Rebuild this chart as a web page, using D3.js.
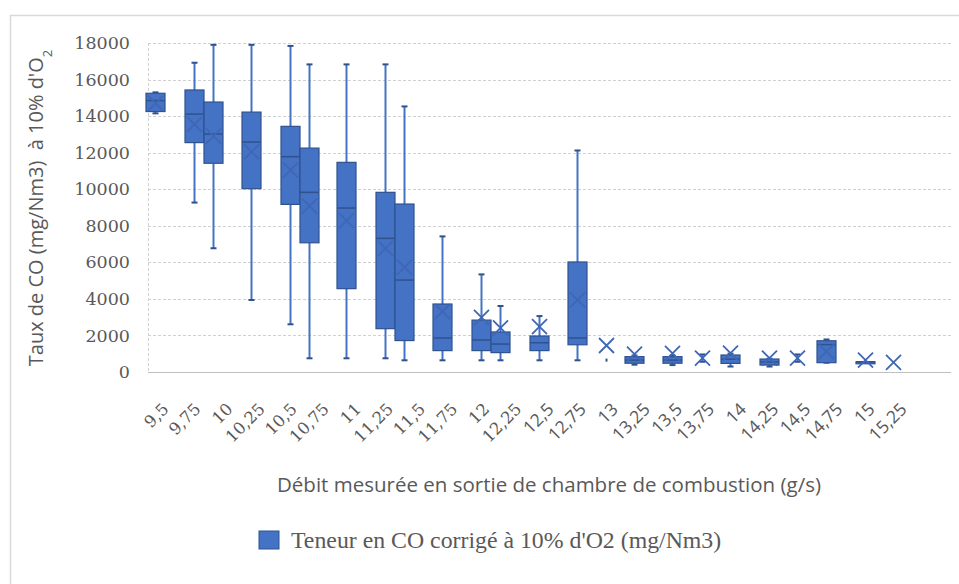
<!DOCTYPE html>
<html>
<head>
<meta charset="utf-8">
<script src="https://cdn.jsdelivr.net/npm/d3@7"></script>
<style>
  html, body { margin: 0; padding: 0; background: #fff; }
  svg { display: block; }
</style>
</head>
<body>
<svg id="chart" width="959" height="584"></svg>
<script>
// ---- data ----
const categories = ["9,5","9,75","10","10,25","10,5","10,75","11","11,25","11,5","11,75","12","12,25","12,5","12,75","13","13,25","13,5","13,75","14","14,25","14,5","14,75","15","15,25"];
const categoryValues = [9.5,9.75,10,10.25,10.5,10.75,11,11.25,11.5,11.75,12,12.25,12.5,12.75,13,13.25,13.5,13.75,14,14.25,14.5,14.75,15,15.25];
// position of each box on the flow axis (g/s)
const boxFlow = [9.50,9.80,9.95,10.25,10.55,10.70,10.99,11.29,11.44,11.74,12.04,12.19,12.49,12.79,13.01,13.23,13.53,13.76,13.98,14.28,14.50,14.73,15.03,15.25];
const mins    = [14150, 9270, 6770, 3940, 2610,  750,  750,  750,  640,  640,  640,  640,  640,  640,  650,  400,  380,  560,  300,  300,  560,  510,  560,  530];
const q1s     = [14250,12550,11420,10030, 9170, 7070, 4560, 2370, 1720, 1170, 1170, 1060, 1170, 1490, null,  480,  480, null,  470,  380, null,  510,  560, null];
const medians = [14850,14110,13020,12580,11780, 9830, 8970, 7310, 5030, 1860, 1750, 1530, 1600, 1860, null,  650,  650, null,  700,  550, null, 1500,  560, null];
const q3s     = [15250,15430,14770,14220,13440,12250,11470, 9830, 9190, 3720, 2840, 2190, 1970, 6020, null,  840,  840, null,  930,  710, null, 1710,  560, null];
const maxs    = [15300,16920,17900,17900,17840,16830,16830,16830,14530, 7420, 5340, 3610, 3060,12120,  650,  900,  900,  960, 1000,  720,  960, 1780,  560,  530];
const means   = [14700,13550,12910,12050,11050, 9080, 8280, 6760, 5720, 3300, 2990, 2420, 2480, 3940, 1450,  980, 1020,  760, 1030,  760,  760, 1110,  650,  530];
const yTicks  = [0,2000,4000,6000,8000,10000,12000,14000,16000,18000];
const seriesName = "Teneur en CO corrigé à 10% d'O2 (mg/Nm3)";

const boxes = categories.map((c,i)=>({
  flow: boxFlow[i], min: mins[i], q1: q1s[i], med: medians[i], q3: q3s[i], max: maxs[i], mean: means[i]
}));

// ---- layout ----
const svg = d3.select("#chart");
const plot = {left:148, right:951, top:43, bottom:372};
const fill = "#4472C4", dark = "#2F528F";

// outer chart border
svg.append("rect").attr("x",10.5).attr("y",15.5).attr("width",1000).attr("height",1000)
  .attr("fill","none").attr("stroke","#D9D9D9").attr("stroke-width",1.5);

const y = d3.scaleLinear().domain([0,18000]).range([plot.bottom, plot.top]);
const x = d3.scaleLinear().domain([9.5,15.25]).range([plot.left+7, plot.left+745]);

// gridlines
svg.append("g").selectAll("line").data(yTicks.filter(d=>d>0)).join("line")
  .attr("x1",plot.left).attr("x2",plot.right)
  .attr("y1",d=>Math.round(y(d))+0.5).attr("y2",d=>Math.round(y(d))+0.5)
  .attr("stroke","#D0D0D0").attr("stroke-width",1).attr("stroke-dasharray","3,2");
// left plot edge (dashed)
svg.append("line").attr("x1",plot.left+0.5).attr("x2",plot.left+0.5)
  .attr("y1",plot.top).attr("y2",plot.bottom)
  .attr("stroke","#D0D0D0").attr("stroke-dasharray","3,2");
// bottom axis line
svg.append("line").attr("x1",plot.left).attr("x2",plot.right)
  .attr("y1",Math.round(y(0))+0.5).attr("y2",Math.round(y(0))+0.5)
  .attr("stroke","#BFBFBF").attr("stroke-width",1.2);

// y axis labels
const yAxis = d3.axisLeft(y).tickValues(yTicks).tickSize(0).tickPadding(0).tickFormat(d3.format("d"));
const gy = svg.append("g").attr("transform",`translate(130,0)`).call(yAxis);
gy.select(".domain").remove();
gy.selectAll("text").attr("font-family","'DejaVu Serif', serif").attr("font-size",17.5).attr("fill","#595959");

// x axis labels
const xAxis = d3.axisBottom(x).tickValues(categoryValues).tickSize(0)
  .tickFormat((d,i)=>categories[i]);
const gx = svg.append("g").attr("transform",`translate(0,${plot.bottom})`).call(xAxis);
gx.select(".domain").remove();
gx.selectAll(".tick text")
  .attr("text-anchor","end")
  .attr("font-family",(d)=> d < 12.4 ? "'DejaVu Serif', serif" : "'Open Sans', sans-serif")
  .attr("font-size",(d)=> d < 12.4 ? 16.5 : 17.5)
  .attr("fill","#595959")
  .attr("y",0).attr("dy","0.35em")
  .attr("transform","translate(10,34) rotate(-45)");

// boxes
const g = svg.append("g");
const bw = 19, cap = 6;
boxes.forEach(b=>{
  const cx = Math.round(x(b.flow))+0.5;
  const hasBox = b.q1 !== null;
  if (b.max > b.min) {
    if (hasBox) {
      if (b.max > b.q3) g.append("line").attr("x1",cx).attr("x2",cx).attr("y1",y(b.max)).attr("y2",y(b.q3)).attr("stroke",fill).attr("stroke-width",2);
      if (b.min < b.q1) g.append("line").attr("x1",cx).attr("x2",cx).attr("y1",y(b.q1)).attr("y2",y(b.min)).attr("stroke",fill).attr("stroke-width",2);
    } else {
      g.append("line").attr("x1",cx).attr("x2",cx).attr("y1",y(b.max)).attr("y2",y(b.min)).attr("stroke",fill).attr("stroke-width",2);
    }
    [b.max,b.min].forEach(v=>{
      g.append("line").attr("x1",cx-cap/2).attr("x2",cx+cap/2).attr("y1",y(v)).attr("y2",y(v))
        .attr("stroke",dark).attr("stroke-width",2);
    });
  } else if (!hasBox && b.min !== b.mean) {
    g.append("line").attr("x1",cx).attr("x2",cx).attr("y1",y(b.min)-1.5).attr("y2",y(b.min)+1.5)
      .attr("stroke",dark).attr("stroke-width",2);
  }
  if (hasBox) {
    const h = Math.max(y(b.q1)-y(b.q3), 0);
    g.append("rect").attr("x",cx-bw/2).attr("y",y(b.q3)).attr("width",bw).attr("height",Math.max(h,2))
      .attr("fill",fill).attr("stroke",dark).attr("stroke-width",1.2);
    g.append("line").attr("x1",cx-bw/2).attr("x2",cx+bw/2).attr("y1",y(b.med)).attr("y2",y(b.med))
      .attr("stroke",dark).attr("stroke-width",1.5);
  }
  const my = y(b.mean), s = 7.5;
  g.append("path").attr("d",`M${cx-s},${my-s}L${cx+s},${my+s}M${cx-s},${my+s}L${cx+s},${my-s}`)
    .attr("stroke", "#3F67B5").attr("stroke-width",1.8).attr("fill","none");
});

// y title
const yt = svg.append("text").attr("transform","translate(43,208) rotate(-90)")
  .attr("text-anchor","middle").attr("font-family","'Open Sans', sans-serif").attr("font-size",20).attr("fill","#595959")
  .attr("xml:space","preserve").style("white-space","pre");
yt.append("tspan").text("Taux de CO (mg/Nm3)  à 10% d'O");
yt.append("tspan").attr("baseline-shift","sub").attr("font-size",13).text("2");

// x title
svg.append("text").attr("x",549).attr("y",492).attr("text-anchor","middle")
  .attr("font-family","'Open Sans', sans-serif").attr("font-size",20.5).attr("fill","#595959")
  .text("Débit mesurée en sortie de chambre de combustion (g/s)");

// legend
svg.append("rect").attr("x",259).attr("y",531).attr("width",20).attr("height",18)
  .attr("fill",fill).attr("stroke",dark).attr("stroke-width",1);
svg.append("text").attr("x",291).attr("y",548).attr("font-family","'Liberation Serif', serif")
  .attr("font-size",23.8).attr("fill","#595959").text(seriesName);
</script>
</body>
</html>
